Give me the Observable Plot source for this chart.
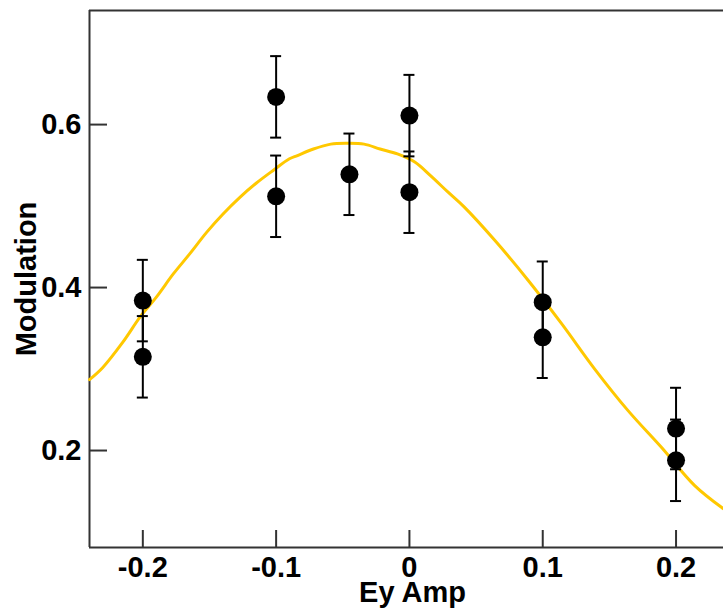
<!DOCTYPE html>
<html>
<head>
<meta charset="utf-8">
<script src="https://cdn.jsdelivr.net/npm/d3@7"></script>
<script src="https://cdn.jsdelivr.net/npm/@observablehq/plot@0.6"></script>
<style>
  html, body { margin: 0; padding: 0; background: #fff; }
  #chart { width: 723px; height: 609px; }
</style>
</head>
<body>
<div id="chart"></div>
<script>
// ---- data ----
const xTicks = [-0.2, -0.1, 0, 0.1, 0.2];
const yTicks = [0.2, 0.4, 0.6];

const ampX   = [-0.2, -0.2, -0.1, -0.1, -0.045, 0, 0, 0.1, 0.1, 0.2, 0.2];
const modY   = [0.384, 0.315, 0.634, 0.512, 0.539, 0.611, 0.517, 0.382, 0.339, 0.227, 0.188];
const modErr = [0.05, 0.05, 0.05, 0.05, 0.05, 0.05, 0.05, 0.05, 0.05, 0.05, 0.05];

const fitX = [-0.24, -0.23, -0.215, -0.202, -0.19, -0.177, -0.165, -0.152, -0.14, -0.127, -0.115, -0.102,
              -0.09, -0.084, -0.072, -0.059, -0.047, -0.034, -0.022, -0.009, 0.004, 0.016, 0.029, 0.041,
              0.064, 0.089, 0.114, 0.139, 0.164, 0.189, 0.214, 0.236];
const fitY = [0.287, 0.302, 0.333, 0.364, 0.388, 0.417, 0.441, 0.468, 0.490, 0.511, 0.528, 0.544,
              0.558, 0.562, 0.570, 0.576, 0.577, 0.576, 0.570, 0.564, 0.554, 0.537, 0.517, 0.499,
              0.458, 0.409, 0.356, 0.300, 0.249, 0.204, 0.157, 0.128];

const xDomain = [-0.24, 0.2356];
const yDomain = [0.081, 0.74];

// ---- tables ----
const points = ampX.map((x, i) => ({x, y: modY[i], lo: modY[i] - modErr[i], hi: modY[i] + modErr[i]}));
const fit = fitX.map((x, i) => ({x, y: fitY[i]}));

const W = 723, H = 609;
const mL = 89, mR = 0, mT = 10, mB = 62;
const plotW = W - mL - mR, plotH = H - mT - mB;
const axisColor = "#333";
const font = "'Liberation Sans', Arial, Helvetica, sans-serif";
const fs = 29;

const chart = Plot.plot({
  width: W,
  height: H,
  marginLeft: mL,
  marginRight: mR,
  marginTop: mT,
  marginBottom: mB,
  style: {fontFamily: font, fontSize: fs + "px", fontWeight: "bold", background: "#fff", color: "#000", overflow: "visible"},
  x: {domain: xDomain},
  y: {domain: yDomain},
  marks: [
    // frame (left, top, bottom)
    Plot.ruleX([xDomain[0]], {stroke: axisColor, strokeWidth: 2}),
    Plot.ruleY([yDomain[0], yDomain[1]], {stroke: axisColor, strokeWidth: 2}),
    // inward ticks
    Plot.ruleX(xTicks, {stroke: axisColor, strokeWidth: 2, insetTop: plotH - 17}),
    Plot.ruleY(yTicks, {stroke: axisColor, strokeWidth: 2, insetRight: plotW - 18}),
    // tick labels
    Plot.axisX(xTicks, {tickSize: 0, tickPadding: 9, tickFormat: d => String(d), label: null,
                        fontSize: fs, fontWeight: "bold", fill: "#000"}),
    Plot.axisY(yTicks, {tickSize: 0, tickPadding: 8, tickFormat: d => String(d), label: null,
                        fontSize: fs, fontWeight: "bold", fill: "#000"}),
    // axis titles
    Plot.text(["Ey Amp"], {frameAnchor: "bottom", dx: 6, dy: 45, text: d => d, fontSize: fs, fontWeight: "bold",
                           fill: "#000", lineAnchor: "middle", textAnchor: "middle"}),
    Plot.text(["Modulation"], {frameAnchor: "left", dx: -63, rotate: -90, text: d => d, fontSize: fs,
                               fontWeight: "bold", fill: "#000", lineAnchor: "middle", textAnchor: "middle"}),
    // fit curve
    Plot.line(fit, {x: "x", y: "y", stroke: "#FFC800", strokeWidth: 3, curve: "catmull-rom"}),
    // error bars
    Plot.ruleX(points, {x: "x", y1: "lo", y2: "hi", stroke: "#000", strokeWidth: 2}),
    Plot.ruleY(points, {y: "hi", x1: "x", x2: "x", insetLeft: -5.5, insetRight: -5.5, stroke: "#000", strokeWidth: 2}),
    Plot.ruleY(points, {y: "lo", x1: "x", x2: "x", insetLeft: -5.5, insetRight: -5.5, stroke: "#000", strokeWidth: 2}),
    // data points
    Plot.dot(points, {x: "x", y: "y", r: 9, fill: "#000", stroke: "none"})
  ]
});

document.getElementById("chart").appendChild(chart);
</script>
</body>
</html>
